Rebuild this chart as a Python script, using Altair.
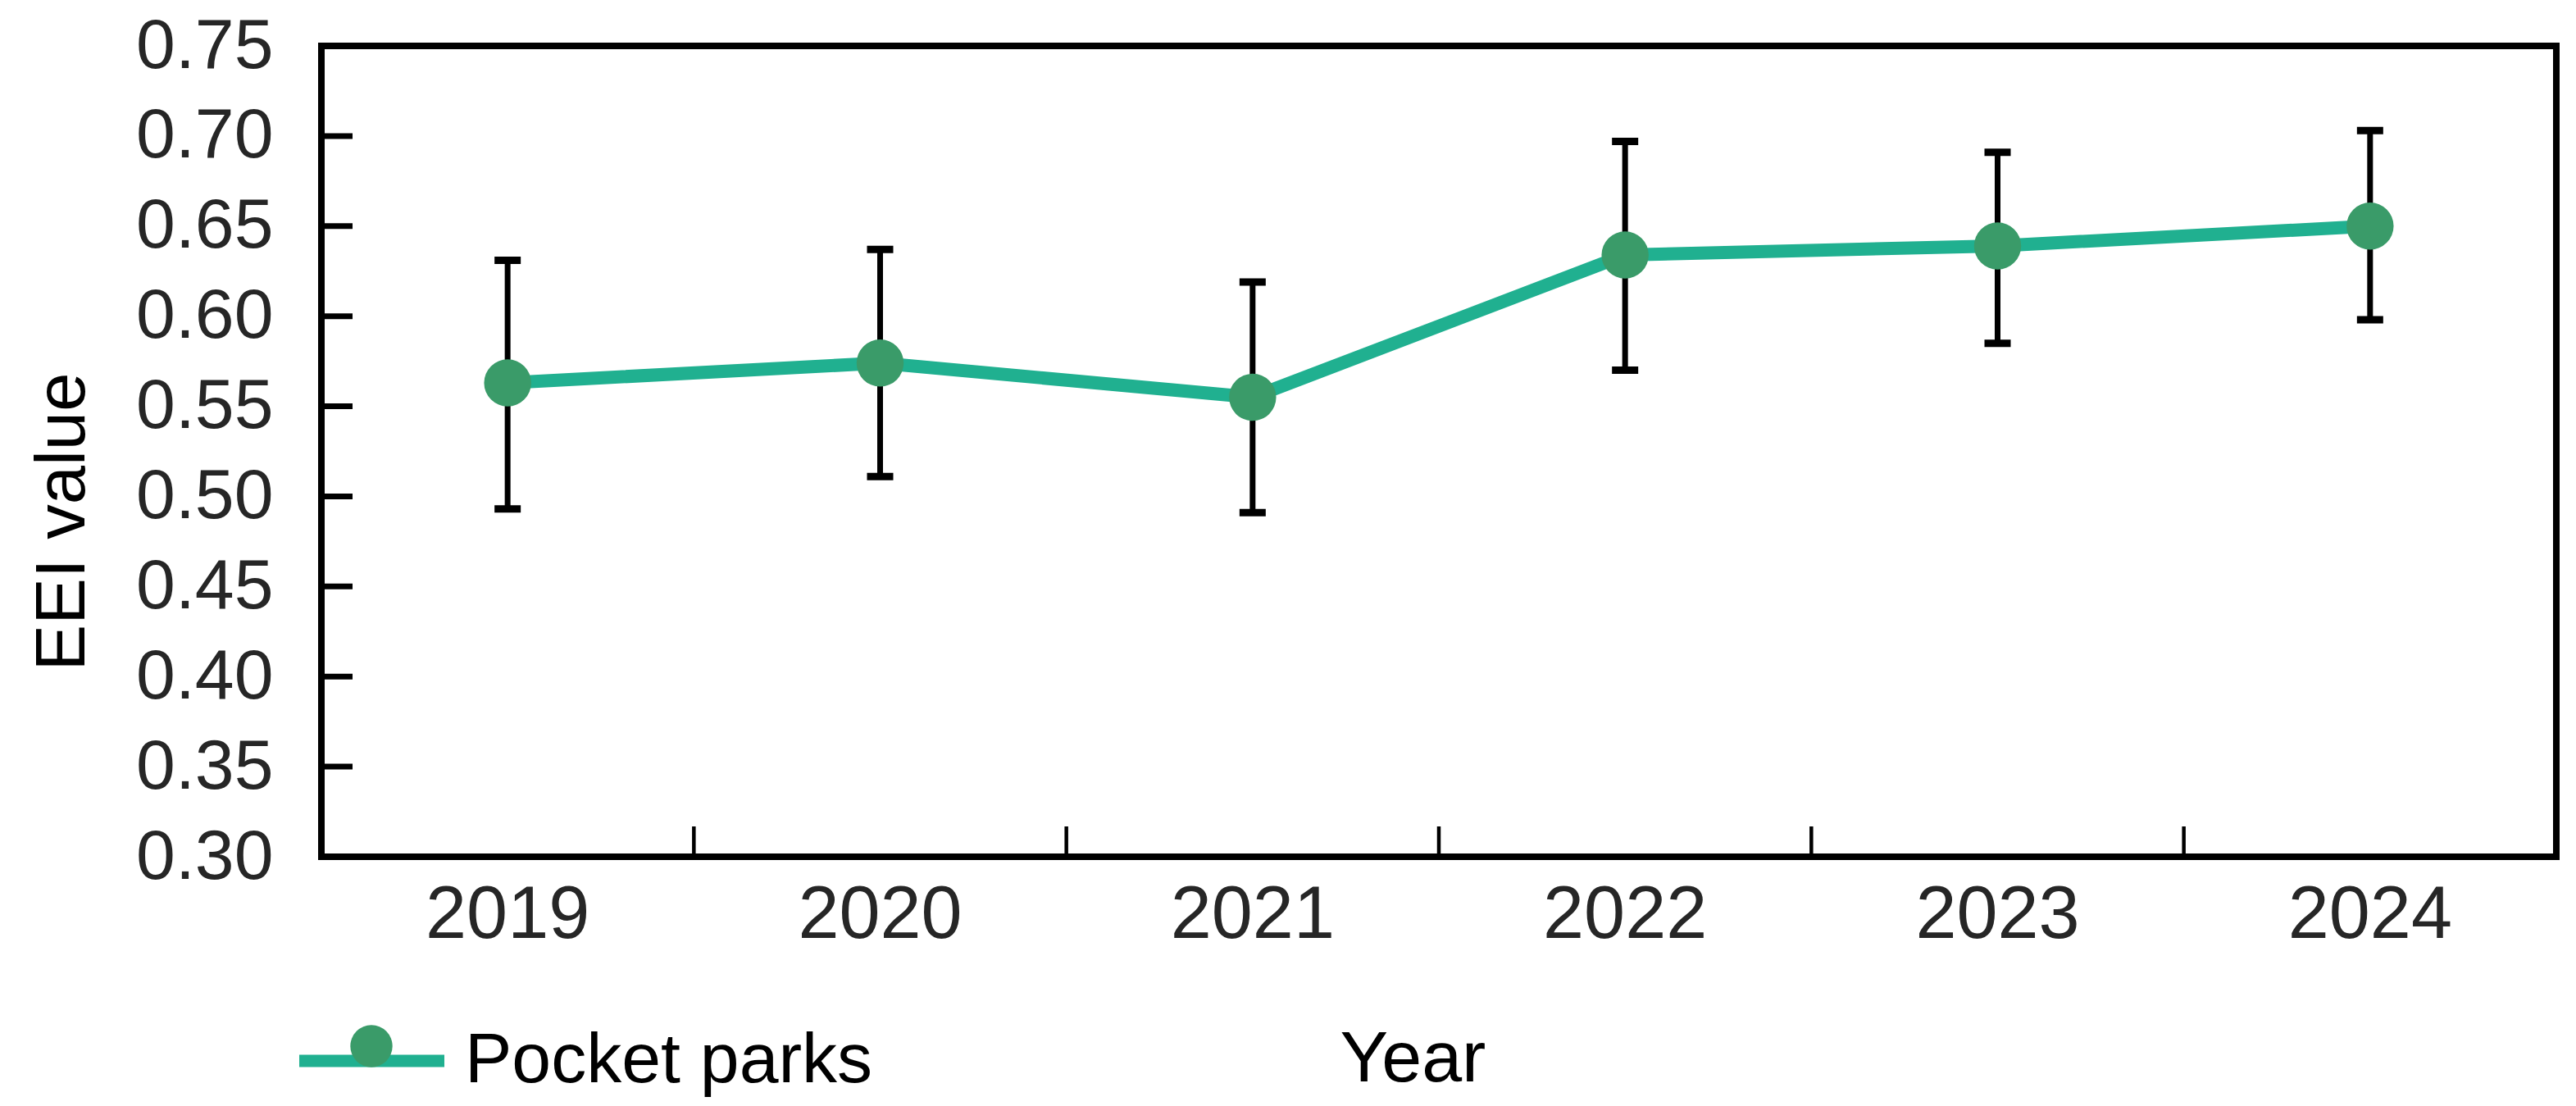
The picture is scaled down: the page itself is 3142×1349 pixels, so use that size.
import altair as alt
import pandas as pd

years = ["2019", "2020", "2021", "2022", "2023", "2024"]
eei = [0.563, 0.574, 0.555, 0.634, 0.639, 0.650]
upper = [0.631, 0.637, 0.619, 0.697, 0.691, 0.703]
lower = [0.493, 0.511, 0.491, 0.570, 0.585, 0.598]
series_name = "Pocket parks"
y_ticks = [0.30, 0.35, 0.40, 0.45, 0.50, 0.55, 0.60, 0.65, 0.70, 0.75]
inner_y_ticks = [0.35, 0.40, 0.45, 0.50, 0.55, 0.60, 0.65, 0.70]
inner_x_ticks = ["2020", "2021", "2022", "2023", "2024"]

LINE_COLOR = "#20B090"
POINT_COLOR = "#3A9B69"
FONT = "Liberation Sans"
W, H = 2726, 989

df = pd.DataFrame({
    "year": years, "eei": eei, "upper": upper, "lower": lower,
    "series": [series_name] * len(years),
    "series2": [series_name] * len(years),
})
ytick_df = pd.DataFrame({"v": inner_y_ticks})
xtick_df = pd.DataFrame({"year": inner_x_ticks})

x_scale = alt.Scale(domain=years, paddingInner=0, paddingOuter=0)
y_scale = alt.Scale(domain=[0.30, 0.75], nice=False, zero=False)

x_axis = alt.Axis(
    title="Year", labelFontSize=90, labelColor="#262626", labelPadding=71,
    labelAngle=0, ticks=False, tickSize=0, domain=False, labelLimit=0,
    bandPosition=0.5, labelAlign="center", labelFlush=False,
    titleFontSize=88, titleFontWeight="normal", titleColor="black",
    titleX=1331, titleY=273, titleBaseline="alphabetic", titleAlign="center",
)
y_axis = alt.Axis(
    title="EEI value", values=y_ticks, format=".2f", labelFontSize=86,
    labelColor="#262626", labelPadding=59, ticks=False, tickSize=0,
    domain=False, grid=False, labelOverlap=False, labelLimit=0,
    titleFontSize=85, titleFontWeight="normal", titleColor="black",
    titleX=-290, titleY=580, titleBaseline="alphabetic", titleAlign="center",
)

base = alt.Chart(df)

stems = base.mark_rule(color="black", strokeWidth=7).encode(
    x=alt.X("year:O", scale=x_scale, axis=x_axis, sort=years),
    y=alt.Y("lower:Q", scale=y_scale, axis=y_axis),
    y2="upper:Q",
)
cap_top = base.mark_tick(color="black", size=32, thickness=9, opacity=1).encode(
    x=alt.X("year:O", sort=years), y="upper:Q"
)
cap_bot = base.mark_tick(color="black", size=32, thickness=9, opacity=1).encode(
    x=alt.X("year:O", sort=years), y="lower:Q"
)
line = base.mark_line(strokeWidth=16, strokeCap="round").encode(
    x=alt.X("year:O", sort=years),
    y="eei:Q",
    color=alt.Color(
        "series:N", scale=alt.Scale(range=[LINE_COLOR]),
        legend=alt.Legend(
            title=None, orient="none", legendX=-34.5, legendY=1142,
            symbolType="stroke", symbolSize=31329, symbolStrokeWidth=15,
            labelFontSize=86, labelColor="black", labelOffset=17.5, padding=0,
            symbolStrokeColor=LINE_COLOR, labelLimit=0,
        ),
    ),
)
points = base.mark_point(filled=True, size=3300, opacity=1, shape="circle").encode(
    x=alt.X("year:O", sort=years),
    y="eei:Q",
    fill=alt.Fill(
        "series2:N", scale=alt.Scale(range=[POINT_COLOR]),
        legend=alt.Legend(
            title=None, orient="none", legendX=35, legendY=1194,
            symbolType="circle", symbolSize=2642, symbolFillColor=POINT_COLOR,
            symbolStrokeWidth=0, labelExpr="''", labelFontSize=1, padding=0,
            symbolOpacity=1,
        ),
    ),
)

yticks = alt.Chart(ytick_df).mark_rule(color="black", strokeWidth=7).encode(
    y=alt.Y("v:Q"), x=alt.value(0), x2=alt.value(38)
)
xticks = alt.Chart(xtick_df).mark_rule(color="black", strokeWidth=4.5).encode(
    x=alt.X("year:O", bandPosition=0, sort=years),
    y=alt.value(H - 37), y2=alt.value(H),
)

chart = alt.layer(yticks, xticks, stems, cap_top, cap_bot, line, points).properties(
    width=W, height=H,
    autosize=alt.AutoSizeParams(type="none"),
    padding={"left": 384, "top": 48, "right": 12, "bottom": 300},
).configure(
    font=FONT,
).configure_view(
    stroke="black", strokeWidth=8,
).configure_legend(
    labelFont=FONT,
)

chart.save("out.html", embed_options={"renderer": "svg", "actions": False})
